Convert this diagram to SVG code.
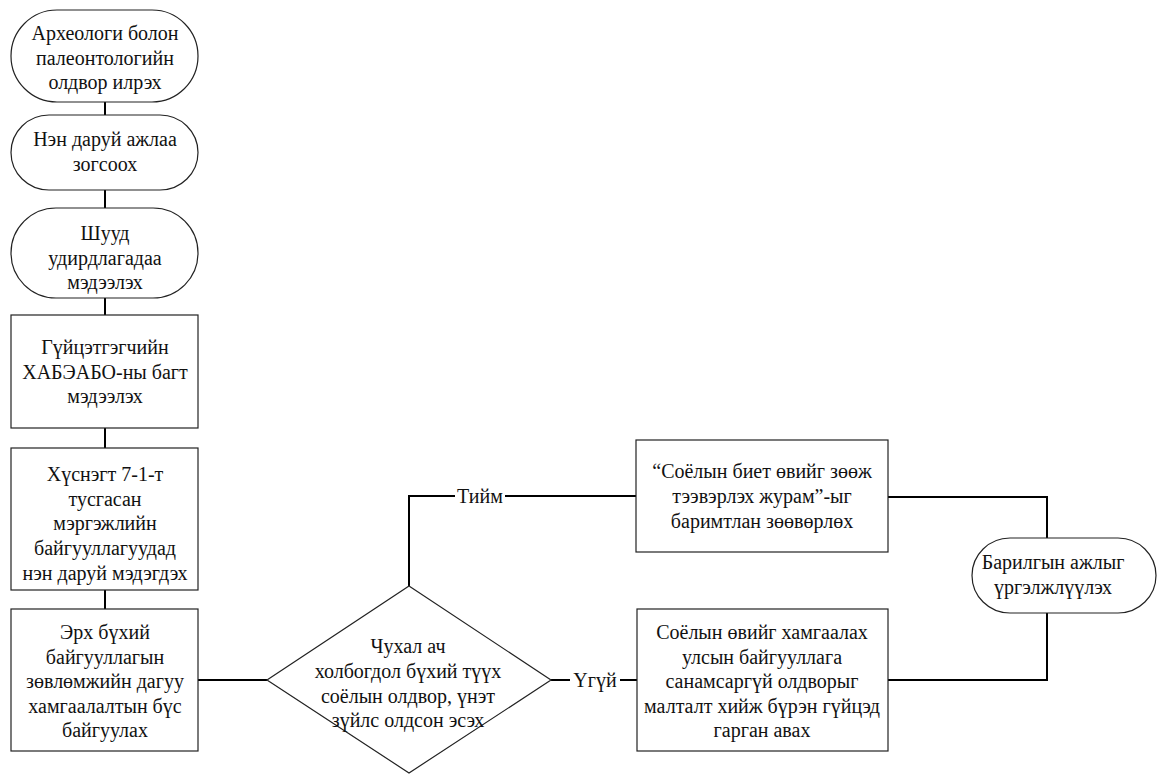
<svg xmlns="http://www.w3.org/2000/svg" width="1159" height="776" viewBox="0 0 1159 776">
<style>
.s{fill:#fff;stroke:#222;stroke-width:1.2}
.c{fill:none;stroke:#000;stroke-width:2}
text{font-family:Liberation Serif,Tinos,Noto Serif,FreeSerif,DejaVu Serif,serif;font-size:20px;fill:#111;text-anchor:middle}
</style>
<rect width="1159" height="776" fill="#fff"/>
<g id="connectors">
<path class="c" d="M105 102V115M105 190V208M105 298V315M105 428V448M105 590V609"/>
<path class="c" d="M198 680H267"/>
<path class="c" d="M409 586V496H455M505 496H636"/>
<path class="c" d="M551 680H570M620 680H637"/>
<path class="c" d="M888 497H1047V538"/>
<path class="c" d="M1047 613V680H888"/>
<text x="480" y="503">Тийм</text>
<text x="595" y="687">Үгүй</text>
</g>
<g id="n1"><rect class="s" x="11" y="10" width="187" height="92" rx="46" ry="46"/>
<text x="105" y="40">Археологи болон</text><text x="105" y="64.5">палеонтологийн</text><text x="105" y="89">олдвор илрэх</text></g>
<g id="n2"><rect class="s" x="11" y="115" width="187" height="75" rx="38" ry="38"/>
<text x="105" y="146">Нэн даруй ажлаа</text><text x="105" y="171">зогсоох</text></g>
<g id="n3"><rect class="s" x="11" y="208" width="187" height="90" rx="45" ry="45"/>
<text x="105" y="240">Шууд</text><text x="105" y="264.5">удирдлагадаа</text><text x="105" y="289">мэдээлэх</text></g>
<g id="n4"><rect class="s" x="11" y="315" width="187" height="113"/>
<text x="105" y="354">Гүйцэтгэгчийн</text><text x="105" y="379">ХАБЭАБО-ны багт</text><text x="105" y="403">мэдээлэх</text></g>
<g id="n5"><rect class="s" x="11" y="448" width="187" height="142"/>
<text x="105" y="481">Хүснэгт 7-1-т</text><text x="105" y="506">тусгасан</text><text x="105" y="530">мэргэжлийн</text><text x="105" y="555">байгууллагуудад</text><text x="105" y="580">нэн даруй мэдэгдэх</text></g>
<g id="n6"><rect class="s" x="11" y="609" width="187" height="142"/>
<text x="105" y="639">Эрх бүхий</text><text x="105" y="664">байгууллагын</text><text x="105" y="688">зөвлөмжийн дагуу</text><text x="105" y="713">хамгаалалтын бүс</text><text x="105" y="737">байгуулах</text></g>
<g id="d1"><polygon class="s" points="409,586 551,680 409,773 267,680"/>
<text x="408" y="653">Чухал ач</text><text x="408" y="678">холбогдол бүхий түүх</text><text x="408" y="703">соёлын олдвор, үнэт</text><text x="408" y="727">зүйлс олдсон эсэх</text></g>
<g id="n7"><rect class="s" x="636" y="440" width="252" height="112"/>
<text x="762" y="478">“Соёлын биет өвийг зөөж</text><text x="762" y="503">тээвэрлэх журам”-ыг</text><text x="762" y="528">баримтлан зөөвөрлөх</text></g>
<g id="n8"><rect class="s" x="637" y="609" width="251" height="142"/>
<text x="762" y="639">Соёлын өвийг хамгаалах</text><text x="762" y="664">улсын байгууллага</text><text x="762" y="688">санамсаргүй олдворыг</text><text x="762" y="713">малталт хийж бүрэн гүйцэд</text><text x="762" y="737">гарган авах</text></g>
<g id="n9"><rect class="s" x="972" y="538" width="184" height="75" rx="38" ry="38"/>
<text x="1053" y="569">Барилгын ажлыг</text><text x="1053" y="594">үргэлжлүүлэх</text></g>
</svg>
